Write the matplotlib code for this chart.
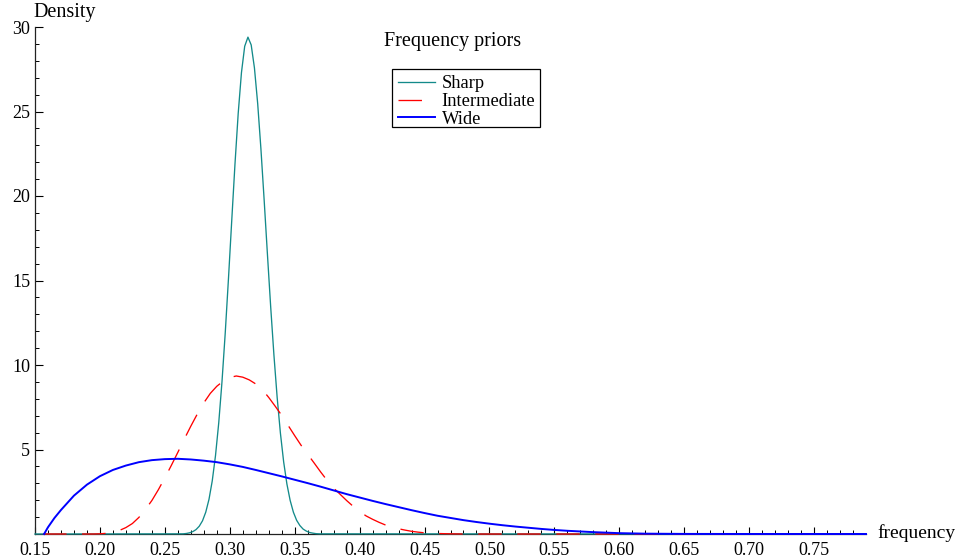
import matplotlib
matplotlib.use("Agg")
from matplotlib import pyplot as plt
from matplotlib.lines import Line2D
from matplotlib.patches import Rectangle
import numpy as np

plt.rcParams['font.family'] = ['Liberation Serif', 'DejaVu Serif']
plt.rcParams['lines.scale_dashes'] = False

sharp_x = [0.15, 0.264, 0.2665, 0.269, 0.2715, 0.274, 0.2765, 0.279, 0.2815, 0.284,
           0.2865, 0.289, 0.2915, 0.294, 0.2965, 0.299, 0.3015, 0.304, 0.3065, 0.309,
           0.3115, 0.314, 0.3165, 0.319, 0.3215, 0.324, 0.3265, 0.329, 0.3315, 0.334,
           0.3365, 0.339, 0.3415, 0.344, 0.3465, 0.349, 0.3515, 0.354, 0.3565, 0.359,
           0.3615, 0.364, 0.3665, 0.369, 0.79]
sharp_y = [0, 0.01, 0.03, 0.07, 0.14, 0.26, 0.46, 0.78, 1.29, 2.05,
           3.14, 4.63, 6.57, 9.00, 11.88, 15.11, 18.52, 21.87, 24.89, 27.30,
           28.86, 29.40, 28.94, 27.58, 25.47, 22.78, 19.74, 16.56, 13.46, 10.60,
           8.08, 5.97, 4.27, 2.96, 1.99, 1.29, 0.81, 0.50, 0.29, 0.17,
           0.09, 0.05, 0.02, 0.01, 0]

inter_x = [0.15, 0.195, 0.20, 0.205, 0.21, 0.215, 0.22, 0.225, 0.23, 0.235,
           0.24, 0.245, 0.25, 0.255, 0.26, 0.265, 0.27, 0.275, 0.28, 0.285,
           0.29, 0.295, 0.30, 0.305, 0.31, 0.315, 0.32, 0.325, 0.33, 0.335,
           0.34, 0.345, 0.35, 0.355, 0.36, 0.365, 0.37, 0.375, 0.38, 0.385,
           0.39, 0.395, 0.40, 0.405, 0.41, 0.415, 0.42, 0.425, 0.43, 0.435,
           0.44, 0.445, 0.45, 0.46, 0.47, 0.48, 0.79]
inter_y = [0, 0, 0.01, 0.04, 0.10, 0.21, 0.38, 0.62, 0.98, 1.45,
           1.98, 2.62, 3.32, 4.06, 4.83, 5.62, 6.38, 7.10, 7.76, 8.32,
           8.74, 9.05, 9.26, 9.35, 9.28, 9.12, 8.88, 8.55, 8.08, 7.56,
           7.02, 6.42, 5.82, 5.24, 4.72, 4.20, 3.67, 3.17, 2.72, 2.35,
           1.98, 1.64, 1.33, 1.07, 0.87, 0.69, 0.53, 0.41, 0.31, 0.23,
           0.16, 0.11, 0.07, 0.03, 0.01, 0, 0]

wide_x = [0.157, 0.16, 0.165, 0.17, 0.18, 0.19, 0.20, 0.21, 0.22, 0.23,
          0.24, 0.25, 0.26, 0.27, 0.28, 0.29, 0.30, 0.31, 0.32, 0.33,
          0.34, 0.35, 0.36, 0.37, 0.38, 0.39, 0.40, 0.41, 0.42, 0.43,
          0.44, 0.45, 0.46, 0.47, 0.48, 0.49, 0.50, 0.51, 0.52, 0.53,
          0.54, 0.55, 0.56, 0.57, 0.58, 0.59, 0.60, 0.62, 0.65, 0.70, 0.79]
wide_y = [0, 0.40, 0.95, 1.42, 2.27, 2.92, 3.42, 3.79, 4.05, 4.25,
          4.37, 4.43, 4.45, 4.41, 4.34, 4.25, 4.12, 3.97, 3.79, 3.60,
          3.41, 3.21, 3.01, 2.80, 2.58, 2.36, 2.16, 1.96, 1.77, 1.59,
          1.41, 1.24, 1.08, 0.95, 0.82, 0.71, 0.61, 0.52, 0.44, 0.37,
          0.30, 0.24, 0.19, 0.15, 0.11, 0.08, 0.05, 0.02, 0.005, 0.001, 0]

labels = ['Sharp', 'Intermediate', 'Wide']
colors = ['#138a8a', '#ff0000', '#0000ff']
x_major = [0.15, 0.20, 0.25, 0.30, 0.35, 0.40, 0.45, 0.50, 0.55, 0.60, 0.65, 0.70, 0.75]
y_major = [5, 10, 15, 20, 25, 30]

W, H = 956, 560
fig = plt.figure(figsize=(W / 100, H / 100), dpi=100)
ax = fig.add_axes([35 / W, 26 / H, 831 / W, 507 / H])

red_dash = (22.3, (16.9, 11.2))
ax.plot(sharp_x, sharp_y, color=colors[0], lw=0.95, zorder=3, clip_on=False)
ax.plot(inter_x, inter_y, color=colors[1], lw=0.95, ls=red_dash, zorder=4, clip_on=False)
ax.plot(wide_x, wide_y, color=colors[2], lw=1.4, zorder=5, clip_on=False)

ax.set_xlim(0.15, 0.79)
ax.set_ylim(0, 30)
ax.spines['top'].set_visible(False)
ax.spines['right'].set_visible(False)
for s in ['left', 'bottom']:
    ax.spines[s].set_linewidth(0.9)
    ax.spines[s].set_color('#222222')

ax.set_xticks(x_major)
ax.set_xticklabels(['%.2f' % v for v in x_major])
ax.set_xticks(np.arange(0.16, 0.785, 0.01), minor=True)
ax.set_yticks(y_major)
ax.set_yticks([v for v in range(1, 30) if v % 5], minor=True)

ax.tick_params(axis='x', which='major', direction='in', length=5, width=0.8,
               pad=5.5, labelsize=13)
ax.tick_params(axis='x', which='minor', direction='in', length=2.6, width=0.7)
ax.tick_params(axis='y', which='major', direction='in', length=5.8, width=0.8,
               pad=3.5, labelsize=13)
ax.tick_params(axis='y', which='minor', direction='in', length=3, width=0.7)

fig.text(33 / W, 1 - 12 / H, 'Density', fontsize=14.5, ha='left', va='center')
fig.text(877 / W, 1 - 533 / H, 'frequency', fontsize=14, ha='left', va='center')
fig.text(452.5 / W, 1 - 41.7 / H, 'Frequency priors', fontsize=14.5,
         ha='center', va='center')

# legend with a tight hand-drawn frame
handles = [Line2D([], [], color=colors[0], lw=0.95),
           Line2D([], [], color=colors[1], lw=0.95, ls=(0, (16.9, 11.2))),
           Line2D([], [], color=colors[2], lw=1.4)]
ax.legend(handles, labels, loc='upper left', frameon=False, fontsize=13.3,
          bbox_to_anchor=(398 / W, 1 - 75.5 / H), bbox_transform=fig.transFigure,
          borderpad=0, borderaxespad=0, handlelength=2.0, handletextpad=0.36,
          labelspacing=0.03)
fig.patches.append(Rectangle((392 / W, 1 - 127 / H), 148 / W, 58 / H,
                             transform=fig.transFigure, fill=False,
                             edgecolor='black', lw=0.9))

fig.savefig('out.png', dpi=100)
